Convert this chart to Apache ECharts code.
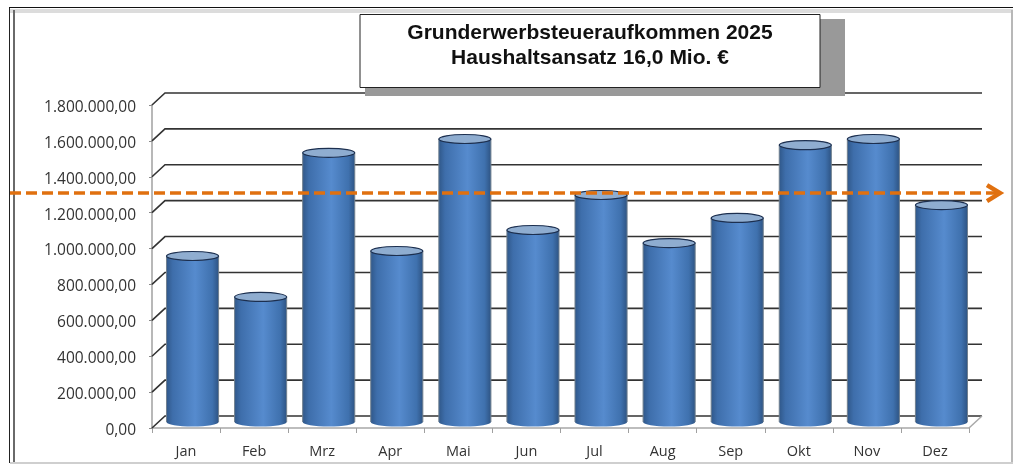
<!DOCTYPE html>
<html>
<head>
<meta charset="utf-8">
<title>Grunderwerbsteueraufkommen 2025</title>
<script src="https://cdn.jsdelivr.net/npm/echarts@6/dist/echarts.min.js"></script>
<style>
  html, body { margin: 0; padding: 0; background: #fff; }
  #chart { width: 1013px; height: 467px; }
</style>
</head>
<body>
<div id="chart"></div>
<script>
const titleLines = ['Grunderwerbsteueraufkommen 2025', 'Haushaltsansatz 16,0 Mio. €'];
const months = ['Jan', 'Feb', 'Mrz', 'Apr', 'Mai', 'Jun', 'Jul', 'Aug', 'Sep', 'Okt', 'Nov', 'Dez'];
const revenue = [925000, 697000, 1500000, 953000, 1577000, 1070000, 1265000, 997000, 1137000, 1543000, 1577000, 1209000];
const tickValues = [0, 200000, 400000, 600000, 800000, 1000000, 1200000, 1400000, 1600000, 1800000];
const budgetLine = [1309000];

// depth of the fake 3D box
const DEPTH_X = 13;
const DEPTH_Y = 12;

function formatGerman(v) {
    return v.toLocaleString('de-DE', { minimumFractionDigits: 2, maximumFractionDigits: 2 });
}

// back wall lines, one per tick
function renderWall(params, api) {
    const v = api.value(1);
    const sys = params.coordSys;
    const y = api.coord([0, v])[1];
    const x0 = sys.x;
    const x1 = sys.x + sys.width;
    const children = [{
        type: 'polyline',
        shape: { points: [[x0, y], [x0 + DEPTH_X, y - DEPTH_Y], [x1 + DEPTH_X, y - DEPTH_Y]] },
        style: { fill: null, stroke: '#333', lineWidth: 1.6 }
    }];
    if (v === 0) {
        children.push({
            type: 'line',
            shape: { x1: x1, y1: y, x2: x1 + DEPTH_X, y2: y - DEPTH_Y },
            style: { stroke: '#a8a8a8', lineWidth: 1.5 }
        });
    }
    return { type: 'group', children: children };
}

function cylinderGradient() {
    return new echarts.graphic.LinearGradient(0, 0, 1, 0, [
        { offset: 0, color: '#30588a' },
        { offset: 0.12, color: '#3e6eab' },
        { offset: 0.55, color: '#568bce' },
        { offset: 0.88, color: '#3f71ae' },
        { offset: 1, color: '#2e5484' }
    ]);
}

// cylinder for one month
function renderCylinder(params, api) {
    const top = api.coord([api.value(0), api.value(1)]);
    const base = api.coord([api.value(0), 0]);
    const width = api.size([1, 0])[0] * 0.765;
    const cx = top[0] + DEPTH_X / 2;
    const topY = top[1] - DEPTH_Y / 2;
    const baseY = base[1] - DEPTH_Y / 2;
    const rx = width / 2;
    const ry = 4.5;
    return {
        type: 'group',
        children: [
            {
                type: 'ellipse',
                shape: { cx: cx, cy: baseY, rx: rx, ry: ry },
                style: { fill: cylinderGradient(), stroke: null }
            },
            {
                type: 'rect',
                shape: { x: cx - rx, y: topY, width: width, height: baseY - topY },
                style: { fill: cylinderGradient(), stroke: null }
            },
            {
                type: 'line',
                shape: { x1: cx - rx, y1: topY, x2: cx - rx, y2: baseY },
                style: { stroke: '#71808f', lineWidth: 1 }
            },
            {
                type: 'line',
                shape: { x1: cx + rx, y1: topY, x2: cx + rx, y2: baseY },
                style: { stroke: '#71808f', lineWidth: 1 }
            },
            {
                type: 'ellipse',
                shape: { cx: cx, cy: topY, rx: rx, ry: ry },
                style: { fill: '#8fadd0', stroke: '#1c2f4f', lineWidth: 1.2 }
            }
        ]
    };
}

// orange target line, runs past the plot on both sides
function renderBudget(params, api) {
    const y = api.coord([0, api.value(1)])[1];
    const xEnd = 1000;
    return {
        type: 'group',
        children: [
            {
                type: 'line',
                shape: { x1: 10, y1: y, x2: xEnd - 3, y2: y },
                style: { stroke: '#e0700f', lineWidth: 3.5, lineDash: [11, 5] }
            },
            {
                type: 'polyline',
                shape: { points: [[xEnd - 13, y - 8], [xEnd, y], [xEnd - 13, y + 8]] },
                style: { fill: null, stroke: '#e0700f', lineWidth: 4.5 }
            }
        ]
    };
}

const chart = echarts.init(document.getElementById('chart'), null, { renderer: 'canvas' });

const option = {
    animation: false,
    backgroundColor: '#fff',
    title: {
        text: titleLines.join('\n'),
        left: 585,
        top: 16,
        textAlign: 'center',
        textStyle: {
            fontFamily: '"Liberation Sans", Arial, sans-serif',
            fontSize: 21,
            fontWeight: 'bold',
            lineHeight: 25,
            color: '#111'
        }
    },
    grid: { left: 152, right: 44, top: 105, bottom: 39 },
    xAxis: {
        type: 'category',
        data: months,
        axisLine: { lineStyle: { color: '#a8a8a8', width: 1.5 } },
        axisTick: { show: true, length: 5, lineStyle: { color: '#a0a0a0' } },
        axisLabel: { color: '#333', fontFamily: '"Open Sans", sans-serif', fontSize: 14.5, margin: 16 },
        splitLine: { show: false }
    },
    yAxis: {
        type: 'value',
        min: 0,
        max: 1800000,
        interval: 200000,
        axisLine: { show: true, lineStyle: { color: '#a0a0a0', width: 1.5 } },
        axisTick: { show: true, length: 3, lineStyle: { color: '#888' } },
        axisLabel: {
            color: '#333',
            fontFamily: '"Open Sans", sans-serif',
            fontSize: 15.5,
            margin: 16,
            verticalAlign: 'top',
            lineHeight: 5,
            formatter: formatGerman
        },
        splitLine: { show: false }
    },
    graphic: {
        elements: [
            // outer frame
            { type: 'rect', z: -10, shape: { x: 9, y: 8, width: 1004, height: 455 }, style: { fill: '#fff', stroke: null } },
            { type: 'line', z: -9, shape: { x1: 9, y1: 7.5, x2: 1013, y2: 7.5 }, style: { stroke: '#111', lineWidth: 1 } },
            { type: 'line', z: -9, shape: { x1: 10, y1: 11, x2: 1013, y2: 11 }, style: { stroke: '#dcdcdc', lineWidth: 4 } },
            { type: 'line', z: -9, shape: { x1: 9.5, y1: 8, x2: 9.5, y2: 463 }, style: { stroke: '#222', lineWidth: 1 } },
            { type: 'line', z: -9, shape: { x1: 14, y1: 10, x2: 14, y2: 463 }, style: { stroke: '#6a6a6a', lineWidth: 2 } },
            { type: 'line', z: -9, shape: { x1: 1012, y1: 10, x2: 1012, y2: 463 }, style: { stroke: '#b8b8b8', lineWidth: 2 } },
            { type: 'line', z: -9, shape: { x1: 10, y1: 463, x2: 1013, y2: 463 }, style: { stroke: '#cfcfcf', lineWidth: 2 } },
            // title box with its shadow, sits on top of the first wall line
            { type: 'rect', z: 3, shape: { x: 365, y: 19, width: 480, height: 77 }, style: { fill: '#999', stroke: null } },
            { type: 'rect', z: 4, shape: { x: 360, y: 14.5, width: 460, height: 73 }, style: { fill: '#fff', stroke: '#222', lineWidth: 1 } }
        ]
    },
    series: [
        {
            name: 'Wand',
            type: 'custom',
            z: 1,
            renderItem: renderWall,
            encode: { x: 0, y: 1 },
            data: tickValues.map(v => [0, v]),
            silent: true
        },
        {
            name: 'Grunderwerbsteuer',
            type: 'custom',
            z: 2,
            renderItem: renderCylinder,
            encode: { x: 0, y: 1 },
            data: revenue.map((v, i) => [i, v])
        },
        {
            name: 'Haushaltsansatz',
            type: 'custom',
            z: 5,
            renderItem: renderBudget,
            encode: { x: 0, y: 1 },
            data: budgetLine.map(v => [0, v]),
            silent: true
        }
    ]
};

chart.setOption(option);
window.addEventListener('resize', () => chart.resize());
</script>
</body>
</html>
